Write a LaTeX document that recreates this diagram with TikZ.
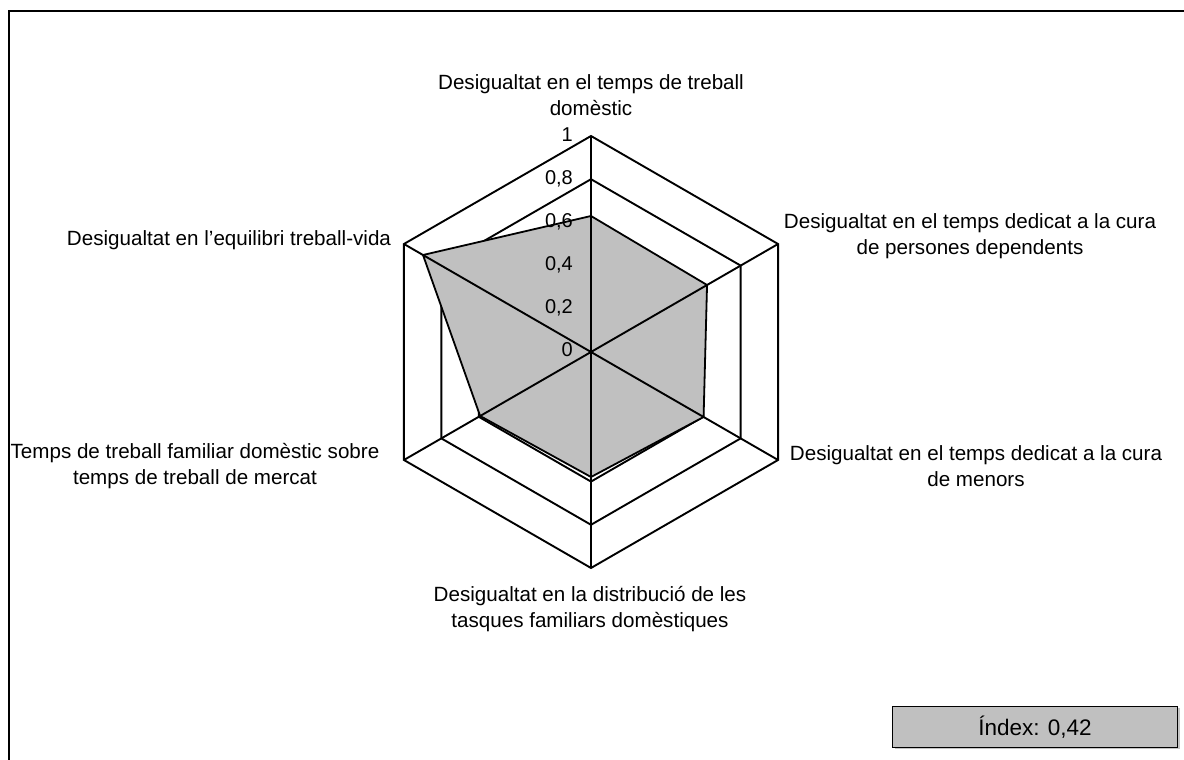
\documentclass[tikz,border=0pt]{standalone}
\usepackage{fontspec}
\setmainfont{Liberation Sans}
\usepackage{tikz}
\usetikzlibrary{shadows}

\definecolor{areagray}{HTML}{C0C0C0}
\tikzset{
  ringline/.style={draw=black,line width=1.9pt},
  axisline/.style={draw=black,line width=1.9pt},
  axislabel/.style={align=center,inner sep=0pt,font=\fontsize{20.6}{26}\selectfont},
  ticklabel/.style={anchor=east,inner sep=0pt,font=\fontsize{20}{23}\selectfont},
}

\begin{document}
\begin{tikzpicture}[x=1pt,y=1pt]
    \useasboundingbox (0,0) rectangle (1184,760);
    \draw[line width=2.6pt] (9,0) -- (9,749) -- (1184,749);
    \begin{scope}[shift={(591,408)}]
    \coordinate (c) at (0,0);
    \draw[ringline] (90:43.2) -- (30:43.2) -- (-30:43.2) -- (-90:43.2) -- (-150:43.2) -- (150:43.2) -- cycle;
    \draw[ringline] (90:86.4) -- (30:86.4) -- (-30:86.4) -- (-90:86.4) -- (-150:86.4) -- (150:86.4) -- cycle;
    \draw[ringline] (90:129.6) -- (30:129.6) -- (-30:129.6) -- (-90:129.6) -- (-150:129.6) -- (150:129.6) -- cycle;
    \draw[ringline] (90:172.8) -- (30:172.8) -- (-30:172.8) -- (-90:172.8) -- (-150:172.8) -- (150:172.8) -- cycle;
    \draw[ringline] (90:216) -- (30:216) -- (-30:216) -- (-90:216) -- (-150:216) -- (150:216) -- cycle;
    \path[fill=areagray,draw=black,line width=1.8pt] (90:136) -- (30:134) -- (-30:130) -- (-90:125) -- (-150:128) -- (150:194) -- cycle;
    \coordinate (v1) at (90:216);
    \coordinate (v2) at (30:216);
    \coordinate (v3) at (-30:216);
    \coordinate (v4) at (-90:216);
    \coordinate (v5) at (-150:216);
    \coordinate (v6) at (150:216);
    \draw[axisline] (c) -- (v1);
    \draw[axisline] (c) -- (v2);
    \draw[axisline] (c) -- (v3);
    \draw[axisline] (c) -- (v4);
    \draw[axisline] (c) -- (v5);
    \draw[axisline] (c) -- (v6);
    \node[ticklabel] (tick0) at (-18,2) {0};
    \node[ticklabel] (tick2) at (-18,44) {0,2};
    \node[ticklabel] (tick4) at (-18,87) {0,4};
    \node[ticklabel] (tick6) at (-18,130) {0,6};
    \node[ticklabel] (tick8) at (-18,173) {0,8};
    \node[ticklabel] (tick10) at (-18,217) {1};
    \end{scope}
    \node[axislabel] (lbldomestic) at (591,665) {Desigualtat en el temps de treball\\domèstic};
    \node[axislabel] (lbldependents) at (970,524) {Desigualtat en el temps dedicat a la cura\\de persones dependents};
    \node[axislabel] (lblminors) at (976,294) {Desigualtat en el temps dedicat a la cura\\de menors};
    \node[axislabel] (lbltasks) at (590,151) {Desigualtat en la distribució de les\\tasques familiars domèstiques};
    \node[axislabel] (lblmarket) at (195,294) {Temps de treball familiar domèstic sobre\\temps de treball de mercat};
    \node[axislabel] (lblbalance) at (229,520) {Desigualtat en l’equilibri treball-vida};
    \node[draw=black,line width=1.2pt,fill=areagray,minimum width=285pt,minimum height=41pt,
        font=\fontsize{22.5}{25}\selectfont,
        drop shadow={shadow xshift=2pt,shadow yshift=-2pt,fill=black!45}] (index) at (1035,33) {Índex: 0,42};
\end{tikzpicture}
\end{document}
